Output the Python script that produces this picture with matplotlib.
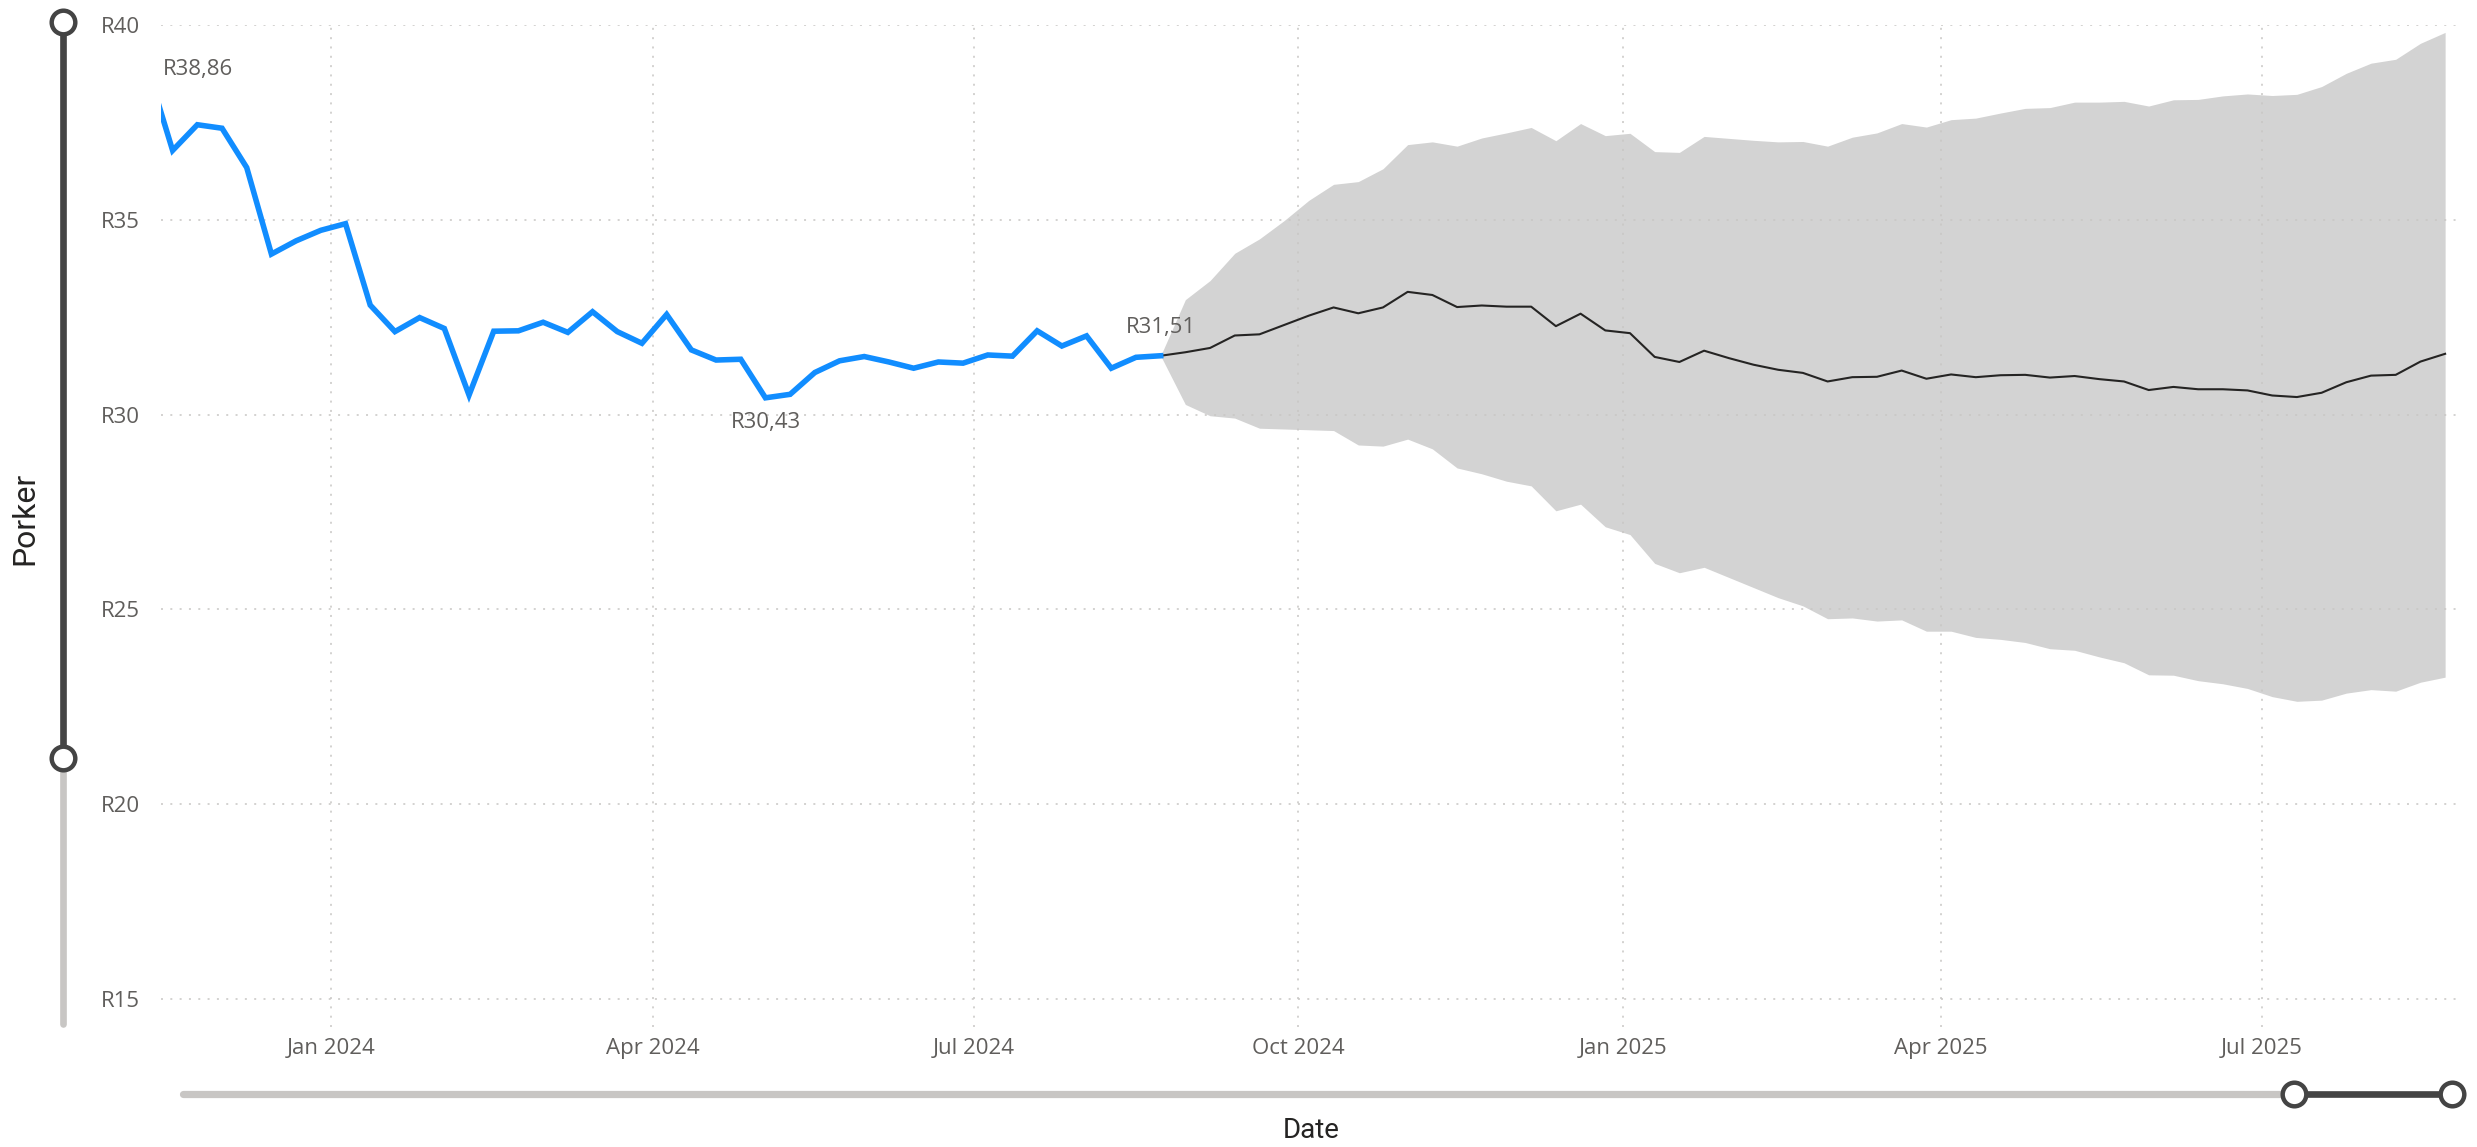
import matplotlib
matplotlib.use("Agg")
import matplotlib.pyplot as plt
import matplotlib.dates as mdates
from matplotlib.lines import Line2D
import pandas as pd

# ---- data ----
actual_start = "2023-11-10"
actual_values = [38.86, 36.78, 37.44, 37.35, 36.34, 34.12, 34.46, 34.73, 34.90, 32.81,
                 32.13, 32.49, 32.21, 30.50, 32.14, 32.15, 32.37, 32.11, 32.64, 32.13,
                 31.83, 32.57, 31.66, 31.40, 31.42, 30.43, 30.52, 31.08, 31.38, 31.49,
                 31.35, 31.19, 31.35, 31.32, 31.53, 31.50, 32.15, 31.76, 32.02, 31.19,
                 31.47, 31.51]

forecast_values = [31.60, 31.71, 32.03, 32.06, 32.30, 32.54, 32.75, 32.60, 32.75, 33.15,
                   33.07, 32.76, 32.80, 32.77, 32.77, 32.27, 32.59, 32.16, 32.09, 31.48,
                   31.35, 31.64, 31.45, 31.28, 31.15, 31.07, 30.85, 30.96, 30.97, 31.13,
                   30.92, 31.03, 30.96, 31.01, 31.02, 30.95, 30.99, 30.91, 30.85, 30.63,
                   30.71, 30.65, 30.65, 30.62, 30.49, 30.45, 30.56, 30.83, 31.00, 31.02,
                   31.36, 31.56]
upper_values = [32.95, 33.44, 34.14, 34.51, 34.98, 35.50, 35.91, 35.98, 36.31, 36.93,
                37.00, 36.89, 37.10, 37.23, 37.37, 37.03, 37.47, 37.16, 37.22, 36.75,
                36.73, 37.14, 37.09, 37.04, 37.00, 37.01, 36.89, 37.12, 37.23, 37.47,
                37.38, 37.57, 37.61, 37.74, 37.86, 37.88, 38.02, 38.02, 38.04, 37.92,
                38.08, 38.09, 38.18, 38.23, 38.19, 38.22, 38.42, 38.76, 39.02, 39.12,
                39.53, 39.81]
lower_values = [30.26, 29.97, 29.91, 29.65, 29.63, 29.61, 29.59, 29.22, 29.19, 29.37,
                29.12, 28.63, 28.48, 28.29, 28.17, 27.53, 27.70, 27.12, 26.92, 26.18,
                25.94, 26.08, 25.82, 25.56, 25.30, 25.09, 24.76, 24.78, 24.70, 24.73,
                24.44, 24.44, 24.28, 24.23, 24.15, 23.99, 23.95, 23.78, 23.63, 23.32,
                23.31, 23.17, 23.09, 22.97, 22.76, 22.64, 22.67, 22.85, 22.94, 22.90,
                23.13, 23.26]

y_ticks = [15, 20, 25, 30, 35, 40]
x_ticks = ["2024-01-01", "2024-04-01", "2024-07-01", "2024-10-01",
           "2025-01-01", "2025-04-01", "2025-07-01"]

# weekly dates
actual_dates = pd.date_range(actual_start, periods=len(actual_values), freq="7D")
fc_dates = pd.date_range(actual_dates[-1], periods=len(forecast_values) + 1, freq="7D")
# forecast line and band start from the last actual point
fc_line = [actual_values[-1]] + forecast_values
fc_up = [actual_values[-1]] + upper_values
fc_low = [actual_values[-1]] + lower_values


def rand(v):
    # rand label with comma decimal
    return ("R%.2f" % v).replace(".", ",")


W, H = 2477, 1147
fig = plt.figure(figsize=(W / 100, H / 100), dpi=100)
fig.patch.set_facecolor("white")


def fx(x):
    return x / W


def fy(y):
    return 1 - y / H


ax = fig.add_axes([fx(161), fy(1027), fx(2461) - fx(161), fy(25) - fy(1027)])

grid_col = "#C8C6C4"
text_col = "#605E5C"
tick_font = "Open Sans"

ax.fill_between(fc_dates, fc_low, fc_up, color="#D3D3D3", linewidth=0, zorder=0.2)
ax.plot(fc_dates, fc_line, color="#252423", linewidth=1.5, zorder=3)
ax.plot(actual_dates, actual_values, color="#118DFF", linewidth=4.0,
        solid_joinstyle="miter", zorder=4)

ax.set_xlim(pd.Timestamp("2023-11-13 17:00"), pd.Timestamp("2025-08-26 12:00"))
ax.set_ylim(14.28, 40)

ax.set_yticks(y_ticks)
ax.set_yticklabels(["R%d" % v for v in y_ticks])
ax.set_xticks([pd.Timestamp(d) for d in x_ticks])
ax.xaxis.set_major_formatter(mdates.DateFormatter("%b %Y"))

ax.set_axisbelow(True)
ax.grid(True, color=grid_col, linewidth=1.1, linestyle=(0, (1.3, 4.8)))
for s in ax.spines.values():
    s.set_visible(False)
ax.tick_params(axis="both", length=0, labelsize=16, labelcolor=text_col)
ax.tick_params(axis="y", pad=15)
ax.tick_params(axis="x", pad=8)
for lab in ax.get_xticklabels() + ax.get_yticklabels():
    lab.set_fontfamily(tick_font)

# data labels: first, lowest, last
ax.annotate(rand(actual_values[0]), xy=(ax.get_xlim()[0], actual_values[0]),
            xytext=(1, 0), textcoords="offset points", ha="left", va="center",
            fontsize=16, color=text_col, family=tick_font)
i_min = actual_values.index(min(actual_values))
ax.annotate(rand(actual_values[i_min]), xy=(actual_dates[i_min], actual_values[i_min]),
            xytext=(0, -18), textcoords="offset points", ha="center", va="center",
            fontsize=16, color=text_col, family=tick_font)
ax.annotate(rand(actual_values[-1]), xy=(actual_dates[-1], actual_values[-1]),
            xytext=(0, 20), textcoords="offset points", ha="center", va="center",
            fontsize=16, color=text_col, family=tick_font)

# axis titles
fig.text(fx(25), fy(518), "Porker", rotation=90, ha="center", va="center",
         fontsize=23, color="#252423", family="Roboto")
fig.text(fx(1311), fy(1131), "Date", ha="center", va="center",
         fontsize=20, color="#252423", family="Roboto")

# range sliders
dark = "#444444"
light = "#C8C6C4"
fig.add_artist(Line2D([fx(62.8), fx(62.8)], [fy(758), fy(1024)], color=light,
                      linewidth=4.8, solid_capstyle="round"))
fig.add_artist(Line2D([fx(62.8), fx(62.8)], [fy(22), fy(758)], color=dark,
                      linewidth=4.8))
fig.add_artist(Line2D([fx(182.7), fx(2293.5)], [fy(1094), fy(1094)], color=light,
                      linewidth=5.2, solid_capstyle="round"))
fig.add_artist(Line2D([fx(2293.5), fx(2451.5)], [fy(1094), fy(1094)], color=dark,
                      linewidth=4.8))
for cx, cy in [(62.8, 22.3), (62.8, 757.7), (2293.5, 1094), (2451.5, 1094)]:
    fig.add_artist(Line2D([fx(cx)], [fy(cy)], marker="o", markersize=17,
                          markerfacecolor="white", markeredgecolor=dark,
                          markeredgewidth=3.2, linestyle="none"))

fig.savefig("out.png", dpi=100)
